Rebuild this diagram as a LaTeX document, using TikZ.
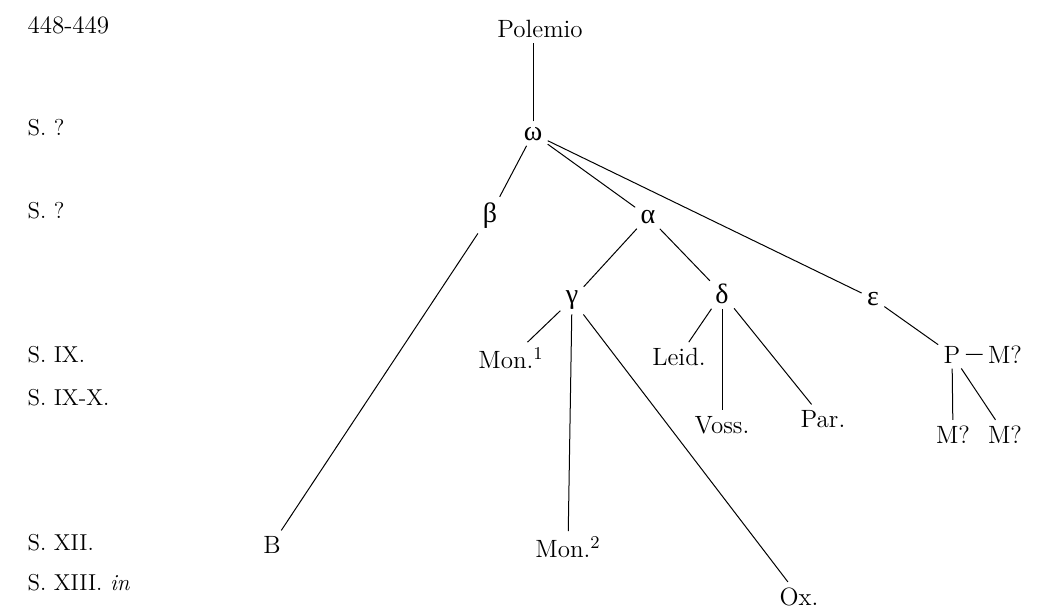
\documentclass[tikz,border=0pt]{standalone}
\usepackage{fontspec}
\newfontfamily\greekfont{Liberation Serif}
\usetikzlibrary{graphs}
\tikzset{
	stemma/.style={
		x=0.5pt, y=-0.5pt,
		line width=0.5pt
	},
	msnode/.style={
		inner sep=2.5pt,
		anchor=base,
		font=\fontsize{12.5}{15}\selectfont
	},
	msgreek/.style={
		msnode,
		font=\fontsize{14}{16}\selectfont\greekfont
	},
	msdate/.style={
		inner sep=0pt,
		anchor=base west,
		font=\fontsize{11.5}{14}\selectfont
	}
}
\begin{document}
\begin{tikzpicture} [stemma]
	\useasboundingbox (0,0) rectangle (1044,611);

	% dates
	\node [msdate, font=\fontsize{12.5}{15}\selectfont] (d0) at (27,33) {448-449};
	\node [msdate] (d1) at (27,135) {S. ?};
	\node [msdate] (d2) at (27,218) {S. ?};
	\node [msdate] (d3) at (27,362) {S. IX.};
	\node [msdate] (d4) at (27,405) {S. IX-X.};
	\node [msdate] (d5) at (27,550) {S. XII.};
	\node [msdate] (d6) at (27,590) {S. XIII. \textit{in}};

	% manuscripts
	\node [msnode] (pol) at (540,37) {Polemio};
	\node [msgreek] (om) at (533,140) {ω};
	\node [msgreek] (be) at (490,222) {β};
	\node [msgreek] (al) at (648,223) {α};
	\node [msgreek] (ga) at (572,303) {γ};
	\node [msgreek] (de) at (722,303) {δ};
	\node [msgreek] (ep) at (873,305) {ε};
	\node [msnode] (mon1) at (511,368) {Mon.$^1$};
	\node [msnode] (leid) at (679,365) {Leid.};
	\node [msnode] (voss) at (722,433) {Voss.};
	\node [msnode] (par) at (823,427) {Par.};
	\node [msnode] (P) at (952,363) {P};
	\node [msnode] (mr) at (1005,363) {M?};
	\node [msnode] (mbl) at (953,443) {M?};
	\node [msnode] (mbr) at (1005,443) {M?};
	\node [msnode] (B) at (272,553) {B};
	\node [msnode] (mon2) at (568,557) {Mon.$^2$};
	\node [msnode] (ox) at (799,605) {Ox.};

	\draw (om) -- (om |- pol.south);
	\graph [use existing nodes] {
		om -- {be, al, ep};
		be -- B;
		al -- {ga, de};
		ga -- {mon1, mon2, ox};
		de -- {leid, voss, par};
		ep -- P -- {mr, mbl, mbr};
	};
\end{tikzpicture}
\end{document}
